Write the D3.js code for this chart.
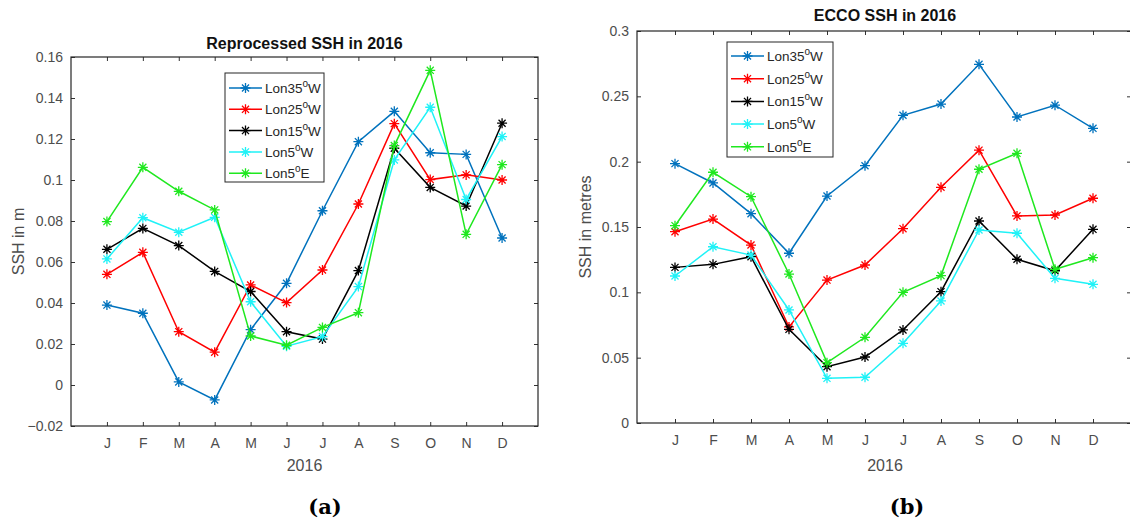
<!DOCTYPE html>
<html>
<head>
<meta charset="utf-8">
<script src="https://cdn.jsdelivr.net/npm/d3@7"></script>
<style>
  body { margin: 0; background: #fff; }
  svg { display: block; font-family: "Liberation Sans", Arial, sans-serif; }
</style>
</head>
<body>
<div class="chart"></div>
<script>
// month tick labels, shared by both panels
var months = ["J", "F", "M", "A", "M", "J", "J", "A", "S", "O", "N", "D"];

// legend entries: Lon<deg>°<dir>
var lonDegs = ["35", "25", "15", "5", "5"];
var lonDirs = ["W", "W", "W", "W", "E"];
var lineColors = ["#0072bd", "#ff0000", "#000000", "#1ff2f7", "#1fe81f"];

// (a) Reprocessed SSH, metres
var rep35W = [0.039, 0.035, 0.0015, -0.0073, 0.027, 0.0496, 0.085, 0.1187, 0.1335, 0.1133, 0.1125, 0.0717];
var rep25W = [0.054, 0.0647, 0.026, 0.016, 0.0488, 0.0402, 0.0561, 0.0883, 0.1275, 0.1002, 0.1025, 0.1];
var rep15W = [0.0662, 0.0764, 0.068, 0.0554, 0.0456, 0.026, 0.0224, 0.0558, 0.1155, 0.0964, 0.0873, 0.1277];
var rep5W = [0.0615, 0.0816, 0.0745, 0.0818, 0.0406, 0.0189, 0.0236, 0.048, 0.1098, 0.1355, 0.0905, 0.1212];
var rep5E = [0.0797, 0.1062, 0.0945, 0.0854, 0.0239, 0.0194, 0.0281, 0.0353, 0.1168, 0.1535, 0.0735, 0.1075];
var repTicks = [-0.02, 0, 0.02, 0.04, 0.06, 0.08, 0.1, 0.12, 0.14, 0.16];

// (b) ECCO SSH, metres
var ecco35W = [0.1985, 0.1837, 0.1602, 0.1299, 0.1737, 0.1969, 0.2355, 0.2441, 0.2745, 0.2342, 0.2432, 0.2255];
var ecco25W = [0.1464, 0.1561, 0.1362, 0.0735, 0.1094, 0.1209, 0.1487, 0.1804, 0.2088, 0.1585, 0.1592, 0.172];
var ecco15W = [0.1191, 0.1214, 0.1273, 0.0717, 0.0431, 0.0505, 0.0712, 0.1005, 0.1546, 0.1253, 0.1165, 0.1482];
var ecco5W = [0.1125, 0.1349, 0.1285, 0.0865, 0.0342, 0.035, 0.061, 0.0934, 0.1477, 0.1452, 0.1107, 0.1061];
var ecco5E = [0.151, 0.1919, 0.1732, 0.114, 0.0462, 0.0656, 0.1, 0.1128, 0.1942, 0.2064, 0.1176, 0.1265];
var eccoTicks = [0, 0.05, 0.1, 0.15, 0.2, 0.25, 0.3];

var svgWidth = 1130;
var svgHeight = 525;

var svg = d3.select(".chart")
    .append("svg")
    .attr("width", svgWidth)
    .attr("height", svgHeight);

// matlab '*' marker: + and x overlaid
function asterisk(r) {
    var d = r * Math.SQRT1_2;
    return `M${-r},0L${r},0M0,${-r}L0,${r}M${-d},${-d}L${d},${d}M${-d},${d}L${d},${-d}`;
}

function drawPanel(p) {
    var width = p.right - p.left;
    var height = p.bottom - p.top;

    var g = svg.append("g")
        .attr("transform", `translate(${p.left}, ${p.top})`);

    var x = d3.scaleLinear().domain([0, 13]).range([0, width]);
    var y = d3.scaleLinear().domain(p.yDomain).range([height, 0]);

    var monthIdx = d3.range(1, 13);

    // bottom axis with labels, ticks pointing in
    g.append("g")
        .attr("transform", `translate(0, ${height})`)
        .call(d3.axisBottom(x).tickValues(monthIdx)
            .tickFormat(d => months[d - 1])
            .tickSizeInner(-4).tickSizeOuter(0).tickPadding(12));

    g.append("g")
        .call(d3.axisTop(x).tickValues(monthIdx).tickFormat("")
            .tickSizeInner(-4).tickSizeOuter(0));

    g.append("g")
        .call(d3.axisLeft(y).tickValues(p.yTicks)
            .tickFormat(d => d3.format("~g")(+d.toFixed(4)))
            .tickSizeInner(-4).tickSizeOuter(0).tickPadding(8));

    g.append("g")
        .attr("transform", `translate(${width}, 0)`)
        .call(d3.axisRight(y).tickValues(p.yTicks).tickFormat("")
            .tickSizeInner(-4).tickSizeOuter(0));

    g.selectAll(".domain").remove();
    g.selectAll(".tick line").attr("stroke", "#333").attr("stroke-width", 1);
    g.selectAll(".tick text")
        .attr("fill", "#4d4d4d")
        .style("font-size", "14px")
        .style("font-family", "Liberation Sans, Arial, sans-serif");

    // box around the axes
    g.append("rect")
        .attr("x", 0).attr("y", 0)
        .attr("width", width).attr("height", height)
        .attr("fill", "none")
        .attr("stroke", "#262626")
        .attr("stroke-width", 1.2);

    var line = d3.line()
        .x((d, i) => x(i + 1))
        .y(d => y(d));

    p.series.forEach(function (vals, k) {
        g.append("path")
            .datum(vals)
            .attr("fill", "none")
            .attr("stroke", lineColors[k])
            .attr("stroke-width", 1.5)
            .attr("d", line);

        g.selectAll(null)
            .data(vals)
            .enter()
            .append("path")
            .attr("transform", (d, i) => `translate(${x(i + 1)}, ${y(d)})`)
            .attr("d", asterisk(5))
            .attr("fill", "none")
            .attr("stroke", lineColors[k])
            .attr("stroke-width", 1.3);
    });

    // title
    svg.append("text")
        .attr("x", p.titleX)
        .attr("y", p.titleY)
        .attr("text-anchor", "middle")
        .style("font-size", "16px")
        .style("font-weight", "bold")
        .attr("fill", "#111")
        .text(p.title);

    // x label
    svg.append("text")
        .attr("x", p.titleX)
        .attr("y", 471)
        .attr("text-anchor", "middle")
        .style("font-size", "16px")
        .attr("fill", "#4d4d4d")
        .text("2016");

    // y label
    svg.append("text")
        .attr("transform", `translate(${p.yLabelX}, ${(p.top + p.bottom) / 2}) rotate(-90)`)
        .attr("text-anchor", "middle")
        .style("font-size", "16px")
        .attr("fill", "#4d4d4d")
        .text(p.yLabel);

    // panel tag (a)/(b)
    svg.append("text")
        .attr("x", p.tagX)
        .attr("y", 514)
        .attr("text-anchor", "middle")
        .style("font-family", "DejaVu Serif, Liberation Serif, serif")
        .style("font-size", "21px")
        .style("font-weight", "bold")
        .attr("fill", "#000")
        .text(p.tag);

    // legend
    var lg = p.legend;
    var legend = svg.append("g")
        .attr("transform", `translate(${lg.x}, ${lg.y})`);

    legend.append("rect")
        .attr("width", lg.w).attr("height", lg.h)
        .attr("fill", "#fff")
        .attr("stroke", "#262626")
        .attr("stroke-width", 1);

    lonDegs.forEach(function (deg, k) {
        var ry = lg.firstRow + k * lg.rowGap;
        legend.append("line")
            .attr("x1", 4).attr("x2", 37)
            .attr("y1", ry).attr("y2", ry)
            .attr("stroke", lineColors[k])
            .attr("stroke-width", 1.5);
        legend.append("path")
            .attr("transform", `translate(20.5, ${ry})`)
            .attr("d", asterisk(5))
            .attr("fill", "none")
            .attr("stroke", lineColors[k])
            .attr("stroke-width", 1.3);
        var t = legend.append("text")
            .attr("x", 40).attr("y", ry + 5)
            .style("font-size", "13.5px")
            .attr("fill", "#262626");
        t.append("tspan").text("Lon" + deg);
        t.append("tspan").attr("dy", -6).style("font-size", "10px").text("o");
        t.append("tspan").attr("dy", 6).text(lonDirs[k]);
    });
}

drawPanel({
    left: 71, right: 538, top: 57, bottom: 426, titleX: 304.5, titleY: 49,
    yDomain: [-0.02, 0.16], yTicks: repTicks,
    series: [rep35W, rep25W, rep15W, rep5W, rep5E],
    title: "Reprocessed SSH in 2016", yLabel: "SSH in m", yLabelX: 24,
    tag: "(a)", tagX: 325,
    legend: { x: 225, y: 73, w: 99, h: 109, firstRow: 15, rowGap: 21.3 }
});

drawPanel({
    left: 637, right: 1131, top: 31, bottom: 423, titleX: 885, titleY: 21,
    yDomain: [0, 0.3], yTicks: eccoTicks,
    series: [ecco35W, ecco25W, ecco15W, ecco5W, ecco5E],
    title: "ECCO SSH in 2016", yLabel: "SSH in metres", yLabelX: 591,
    tag: "(b)", tagX: 907,
    legend: { x: 727, y: 42, w: 106, h: 115, firstRow: 14, rowGap: 22.7 }
});
</script>
</body>
</html>
